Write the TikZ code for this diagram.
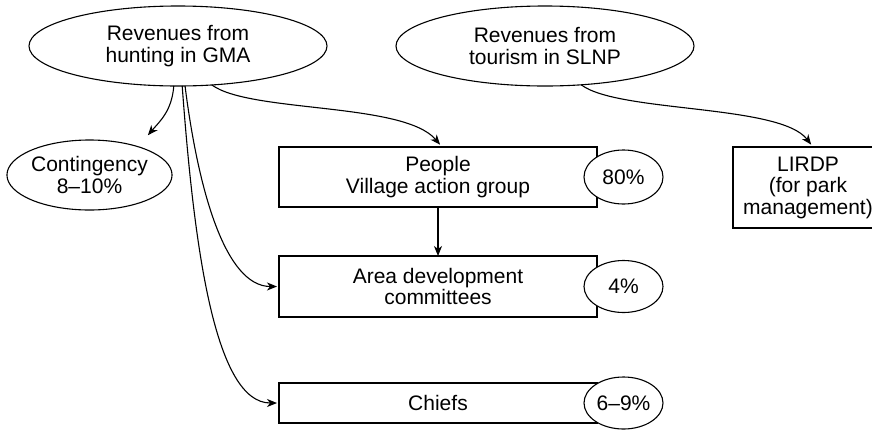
\documentclass[tikz,border=0pt]{standalone}
\usepackage{fontspec}
\setmainfont{Liberation Sans}
\usetikzlibrary{arrows.meta}
\usetikzlibrary{positioning}
\usetikzlibrary{shapes.geometric}

\begin{document}
\begin{tikzpicture}[x=1pt, y=-1pt, line width=1.1pt,
  every node/.style={font=\fontsize{21}{21.5}\selectfont, align=center, inner sep=0pt, outer sep=0pt},
  oval/.style={draw, ellipse, fill=white},
  box/.style={draw, rectangle, minimum width=318pt},
  arr/.style={-{Stealth[length=10pt,width=8pt,inset=3pt]}, line width=1.1pt}]
  \useasboundingbox (0,0) rectangle (872,429);

  \node (hunt) [oval, minimum width=298pt, minimum height=80pt] at (178,46) {Revenues from\\hunting in GMA};
  \node (tour) [oval, minimum width=298pt, minimum height=80pt, right=69pt of hunt] {Revenues from\\tourism in SLNP};
  \node (cont) [oval, minimum width=153pt, minimum height=70pt] at (89.5,175) {Contingency\\8--10\%};

  \node (people) [box, minimum height=60pt] at (438,177) {People\\Village action group};
  \node (area) [box, minimum height=61pt, below=49pt of people] {Area development\\committees};
  \node (chiefs) [box, minimum height=40pt, below=66pt of area] {Chiefs};
  \node (lirdp) [box, minimum width=150pt, minimum height=81pt, right=136pt of people.north east, anchor=north west] {LIRDP\\(for park\\management)};

  \node (p80) [oval, minimum width=79pt, minimum height=54pt, right=-13pt of people] {80\%};
  \node (p4) [oval, minimum width=79pt, minimum height=52pt, right=-13pt of area] {4\%};
  \node (p69) [oval, minimum width=79pt, minimum height=52pt, right=-13pt of chiefs] {6--9\%};

  \draw [arr] (hunt.-96) .. controls +(-2,25) and +(12,-14) .. ([yshift=15pt]cont.north east);
  \draw [arr, shorten >=3pt] (hunt.-49) .. controls +(38,28) and +(-38,-45) .. ([xshift=4pt]people.north);
  \draw [arr, shorten >=2pt] (hunt.-80) .. controls +(13,103) and +(-54,0) .. (area.west);
  \draw [arr, shorten >=2pt] (hunt.-84) .. controls +(12,163) and +(-64,0) .. (chiefs.west);
  \draw [arr, shorten >=3pt] (tour.-47) .. controls +(37,28) and +(-33,-43) .. ([xshift=5pt]lirdp.north);
  \draw [arr] (people) -- (area);
\end{tikzpicture}
\end{document}
